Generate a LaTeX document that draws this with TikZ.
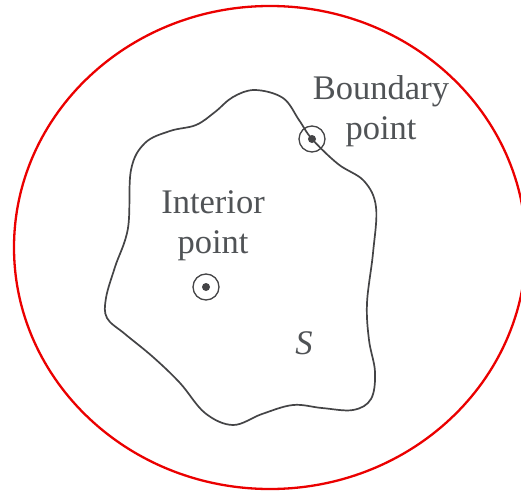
\documentclass[tikz,border=0pt]{standalone}
\usepackage{fontspec}
\setmainfont{Liberation Serif}
\definecolor{ink}{RGB}{68,68,70}
\definecolor{txt}{RGB}{80,83,86}
\definecolor{rim}{RGB}{235,0,0}
\begin{document}
\begin{tikzpicture}[x=1pt,y=-1pt,
  lbl/.style={text=txt,font=\fontsize{34.5}{40}\selectfont,align=center,inner sep=0pt},
  ring/.style={circle,draw=ink,line width=1.3pt,minimum size=26pt,inner sep=0pt},
  dot/.style={circle,fill=ink,minimum size=8pt,inner sep=0pt}]
\useasboundingbox (0,0) rectangle (521,492);
\fill[white] (0,0) rectangle (521,492);
\begin{scope}
\clip (0,0) rectangle (521,492);
\draw[rim,line width=2.3pt] (270,247.5) ellipse [x radius=256, y radius=241.5];
\end{scope}
\draw[ink,line width=1.7pt] plot[smooth cycle,tension=0.6] coordinates {
 (255,90) (283,98) (299,120) (312,139) (338,164) (364,181) (376,207) (373,253)
 (367,303) (369,340) (375,372) (371,399) (353,410) (322,408) (293,405) (262,414)
 (233,425) (205,413) (180,383) (153,357) (125,334) (107,318) (106,298) (115,267)
 (128,228) (131,170) (145,143) (170,131) (196,125) (215,112) (233,97)};
\node[ring] (bp) at (312,139) {};
\node[dot] (bpd) at (bp) {};
\node[ring] (ip) at (206,287) {};
\node[dot] (ipd) at (ip) {};
\node[lbl] (bl) at (381,111) {Boundary\\point};
\node[lbl] (il) at (213,226) {Interior\\point};
\node[lbl,font=\fontsize{34.5}{40}\selectfont\itshape] (s) at (304,343) {S};
\end{tikzpicture}
\end{document}
